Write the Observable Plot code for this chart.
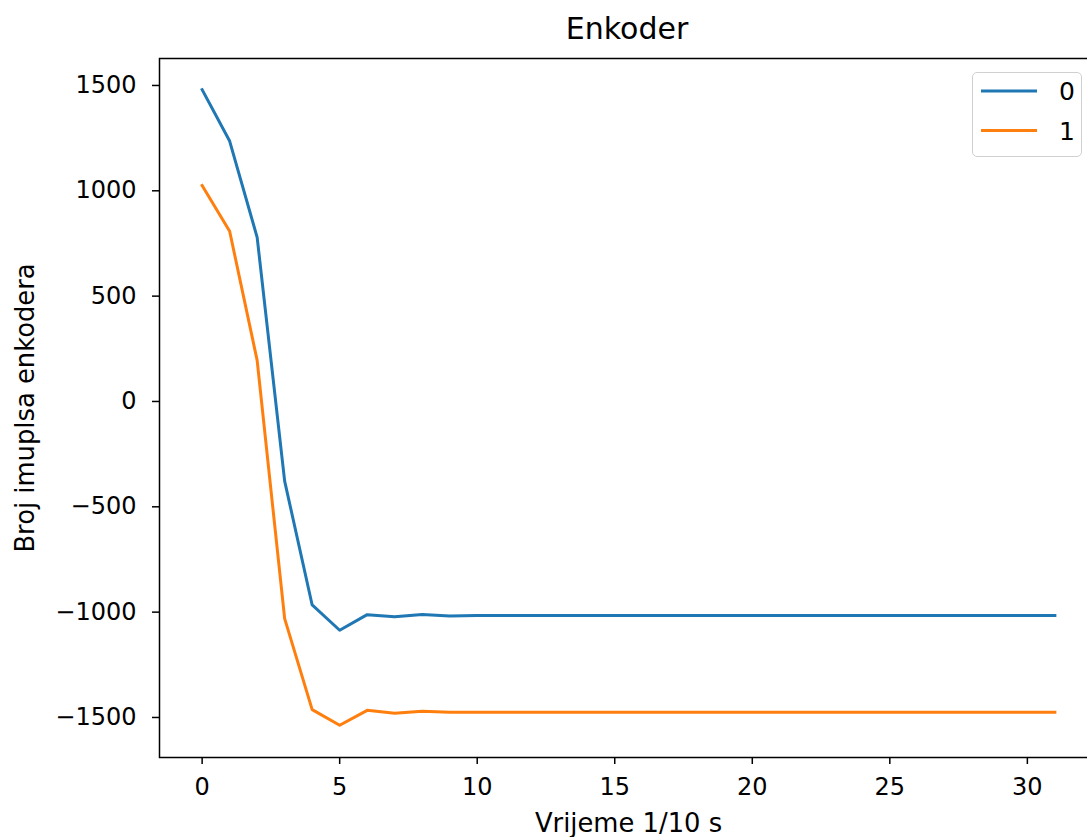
<!DOCTYPE html>
<html>
<head>
<meta charset="utf-8">
<script src="https://cdn.jsdelivr.net/npm/d3@7"></script>
<script src="https://cdn.jsdelivr.net/npm/@observablehq/plot@0.6"></script>
<style>
  html, body { margin: 0; padding: 0; background: white; }
  #wrap { position: relative; width: 1087px; height: 837px; overflow: hidden; font-family: "DejaVu Sans", sans-serif; }
  #title { height: 50px; width: 1087px; position: relative; }
  #title span { position: absolute; left: 627px; top: 14px; transform: translateX(-50%); font-size: 30px; line-height: 30px; color: #000; white-space: nowrap; }
  #legend { position: absolute; left: 972px; top: 72px; width: 110px; height: 85px; box-sizing: border-box; border: 1.5px solid #d0d0d0; border-radius: 5px; background: rgba(255,255,255,0.8); }
</style>
</head>
<body>
<div id="wrap">
  <div id="title"><span>Enkoder</span></div>
  <div id="chart"></div>
  <div id="legend"></div>
</div>
<script>
// Time steps (1/10 s)
const steps = [0,1,2,3,4,5,6,7,8,9,10,11,12,13,14,15,16,17,18,19,20,21,22,23,24,25,26,27,28,29,30,31];
// Encoder 0 (blue)
const enc0 = [1480,1236,779,-378,-966,-1086,-1012,-1022,-1011,-1018,-1016,-1016,-1016,-1016,-1016,-1016,-1016,-1016,-1016,-1016,-1016,-1016,-1016,-1016,-1016,-1016,-1016,-1016,-1016,-1016,-1016,-1016];
// Encoder 1 (orange)
const enc1 = [1025,808,195,-1031,-1463,-1537,-1466,-1480,-1470,-1475,-1475,-1475,-1475,-1475,-1475,-1475,-1475,-1475,-1475,-1475,-1475,-1475,-1475,-1475,-1475,-1475,-1475,-1475,-1475,-1475,-1475,-1475];
const seriesNames = ["0", "1"];
const seriesColors = ["#1f77b4", "#ff7f0e"];
const xTicks = [0,5,10,15,20,25,30];
const yTicks = [-1500,-1000,-500,0,500,1000,1500];
const titleText = "Enkoder";
const xLabel = "Vrijeme 1/10 s";
const yLabel = "Broj imuplsa enkodera";

const rows = [];
steps.forEach((t, i) => {
  rows.push({t, v: enc0[i], s: seriesNames[0]});
  rows.push({t, v: enc1[i], s: seriesNames[1]});
});

const fmt = d3.format("d");

const chart = Plot.plot({
  width: 1087,
  height: 787,
  marginTop: 8,
  marginBottom: 80,
  marginLeft: 159,
  marginRight: -10,
  style: { fontFamily: "DejaVu Sans", fontSize: "24px", color: "#000", background: "white" },
  x: { domain: [-1.55, 32.55] },
  y: { domain: [-1690, 1628] },
  color: { domain: seriesNames, range: seriesColors },
  marks: [
    Plot.axisX({ ticks: xTicks, tickFormat: fmt, tickSize: 7, tickPadding: 13, strokeWidth: 1.5, label: null, fontSize: 24 }),
    Plot.axisY({ ticks: yTicks, tickFormat: fmt, tickSize: 7, tickPadding: 16, strokeWidth: 1.5, label: null, fontSize: 24 }),
    Plot.line(rows, { x: "t", y: "v", z: "s", stroke: "s", strokeWidth: 3, strokeLinejoin: "round", strokeLinecap: "square" }),
    Plot.frame({ stroke: "#000", strokeWidth: 1.5 }),
    Plot.text([xLabel], { frameAnchor: "bottom", dy: 74, fontSize: 25.8, fill: "#000", textAnchor: "middle" }),
    Plot.text([yLabel], { frameAnchor: "left", dx: -134, rotate: -90, fontSize: 25.8, fill: "#000", textAnchor: "middle" })
  ]
});
document.getElementById("chart").appendChild(chart);
document.querySelector("#title span").textContent = titleText;

// Legend
const lg = d3.select("#legend").append("svg").attr("width", 107).attr("height", 82);
seriesNames.forEach((name, i) => {
  const cy = 18 + i * 39.5;
  lg.append("line").attr("x1", 8).attr("x2", 64).attr("y1", cy).attr("y2", cy)
    .attr("stroke", seriesColors[i]).attr("stroke-width", 3);
  lg.append("text").attr("x", 86).attr("y", cy).attr("dy", "0.36em")
    .attr("font-family", "DejaVu Sans").attr("font-size", 25).attr("fill", "#000").text(name);
});
</script>
</body>
</html>
